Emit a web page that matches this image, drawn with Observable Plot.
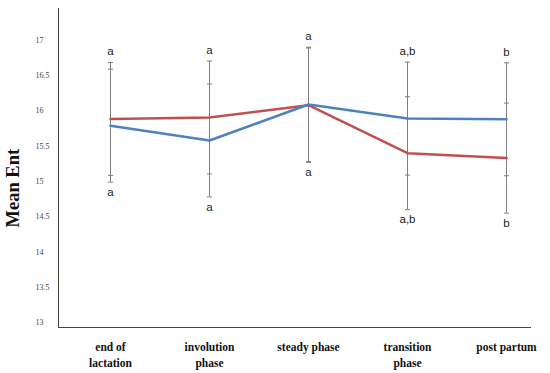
<!DOCTYPE html>
<html>
<head>
<meta charset="utf-8">
<script src="https://cdn.jsdelivr.net/npm/d3@7"></script>
<script src="https://cdn.jsdelivr.net/npm/@observablehq/plot@0.6"></script>
<style>
  html, body { margin: 0; padding: 0; background: #fff; }
  #chart svg { display: block; }
</style>
</head>
<body>
<div id="chart"></div>
<script>
// Categories (x axis)
const categories = ["end of\nlactation", "involution\nphase", "steady phase", "transition\nphase", "post partum"];
// Series means
const blueMean = [15.79, 15.58, 16.09, 15.89, 15.88];
const redMean  = [15.885, 15.905, 16.08, 15.40, 15.33];
// Error half-widths
const blueErr = [0.80, 0.80, 0.81, 0.80, 0.80];
const redErr  = [0.80, 0.80, 0.81, 0.80, 0.78];
// Significance letters
const topLetters    = ["a", "a", "a", "a,b", "b"];
const bottomLetters = ["a", "a", "a", "a,b", "b"];
// Y tick values
const yTicks = [13, 13.5, 14, 14.5, 15, 15.5, 16, 16.5, 17];

const rows = [];
categories.forEach((c, i) => {
  rows.push({cat: c, series: "blue", mean: blueMean[i], lo: blueMean[i] - blueErr[i], hi: blueMean[i] + blueErr[i]});
  rows.push({cat: c, series: "red", mean: redMean[i], lo: redMean[i] - redErr[i], hi: redMean[i] + redErr[i]});
});
const letters = categories.map((c, i) => {
  const rs = rows.filter(r => r.cat === c);
  return {cat: c, top: topLetters[i], bottom: bottomLetters[i],
          hi: d3.max(rs, r => r.hi), lo: d3.min(rs, r => r.lo)};
});

const colors = {blue: "#4f81bd", red: "#c0504d"};

// horizontal cap symbol for error bars
const capSymbol = {
  draw(context, size) {
    const r = Math.sqrt(size / Math.PI);
    context.moveTo(-r, 0);
    context.lineTo(r, 0);
  }
};

const chart = Plot.plot({
  width: 550,
  height: 373,
  marginLeft: 58,
  marginRight: 20,
  marginTop: 8,
  marginBottom: 46,
  style: {background: "#fff"},
  x: {type: "point", domain: categories, padding: 0.366, align: 0.685, axis: null},
  y: {domain: [12.93, 17.45], axis: null},
  marks: [
    // axes lines
    Plot.frame({anchor: "left", stroke: "#404040", strokeWidth: 1}),
    Plot.frame({anchor: "bottom", stroke: "#404040", strokeWidth: 1}),
    // y tick labels
    Plot.axisY({ticks: yTicks, tickFormat: d => String(d), tickSize: 0, tickPadding: 0, textAnchor: "start", dx: -23,
                fontFamily: "Liberation Serif", fontSize: 8, fill: "#444", label: null}),
    // error bars
    Plot.ruleX(rows, {x: "cat", y1: "lo", y2: "hi", stroke: "#7f7f7f", strokeWidth: 1}),
    Plot.dot(rows, {x: "cat", y: "hi", symbol: capSymbol, r: 2.5, stroke: "#7f7f7f", strokeWidth: 1, fill: "none"}),
    Plot.dot(rows, {x: "cat", y: "lo", symbol: capSymbol, r: 2.5, stroke: "#7f7f7f", strokeWidth: 1, fill: "none"}),
    // lines
    Plot.line(rows.filter(r => r.series === "red"), {x: "cat", y: "mean", stroke: colors.red, strokeWidth: 2.5}),
    Plot.line(rows.filter(r => r.series === "blue"), {x: "cat", y: "mean", stroke: colors.blue, strokeWidth: 2.5}),
    // letters
    Plot.text(letters, {x: "cat", y: "hi", text: "top", dy: -11, fontFamily: "Liberation Sans", fontSize: 11.5, fill: "#222"}),
    Plot.text(letters, {x: "cat", y: "lo", text: "bottom", dy: 10, fontFamily: "Liberation Sans", fontSize: 11.5, fill: "#222"}),
    // x category labels
    Plot.text(categories, {x: d => d, frameAnchor: "bottom", lineAnchor: "top", dy: 12, lineHeight: 1.4,
                           fontFamily: "Liberation Serif", fontWeight: "bold", fontSize: 11.5, fill: "#111"}),
    // y title
    Plot.text(["Mean Ent"], {frameAnchor: "left", rotate: -90, dx: -45, dy: 59.5,
                             fontFamily: "Liberation Serif", fontWeight: "bold", fontSize: 18.5, fill: "#111"})
  ]
});
document.getElementById("chart").appendChild(chart);
</script>
</body>
</html>
